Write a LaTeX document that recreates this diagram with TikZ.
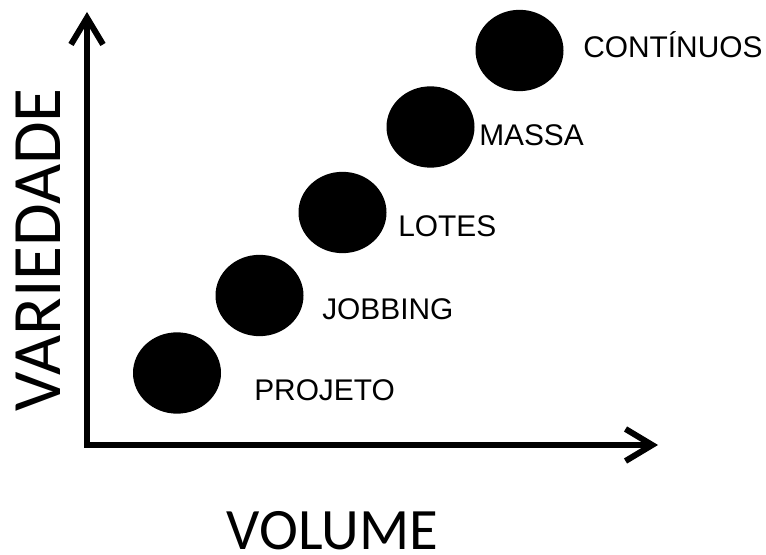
\documentclass[tikz,border=0pt]{standalone}
\usepackage{fontspec}
\setmainfont{Liberation Sans}
\newfontfamily\axisfont{Carlito}
\usetikzlibrary{arrows.meta,shapes.geometric}
\begin{document}
\begin{tikzpicture}[x=0.75pt,y=-0.75pt,
  dot/.style={ellipse,fill=black,minimum width=66pt,minimum height=61pt,inner sep=0pt},
  lbl/.style={anchor=base west,inner sep=0pt,font=\fontsize{22.4}{26}\selectfont},
  axis/.style={line width=4.5pt,line join=miter,
    {Straight Barb[length=20pt,width=24pt]}-{Straight Barb[length=20pt,width=24pt]}},
  axlabel/.style={inner sep=0pt,anchor=base,text depth=0pt}
]
\useasboundingbox (0,0) rectangle (766,555);

% axes
\coordinate (ytip) at (87,12);
\coordinate (origin) at (87,445);
\coordinate (xtip) at (658,445);
\draw[axis] (ytip) -- (origin) -- (xtip);

\node[axlabel,rotate=90,font=\axisfont\fontsize{52}{60}\selectfont] (vlab) at (60,250) {VARIEDADE};
\node[axlabel,font=\axisfont\fontsize{44}{52}\selectfont] (hlab) at (332.5,549) {VOLUME};

% process types
\node[dot] (c1) at (177,373) {};
\node[dot] (c2) at (259.5,295.5) {};
\node[dot] (c3) at (342.5,212.5) {};
\node[dot] (c4) at (430.5,127) {};
\node[dot] (c5) at (519.5,50.5) {};

\node[lbl] (t1) at (254,400) {PROJETO};
\node[lbl] (t2) at (322,320) {JOBBING};
\node[lbl] (t3) at (398,237) {LOTES};
\node[lbl] (t4) at (479,146) {MASSA};
\node[lbl] (t5) at (583,58) {CONTÍNUOS};
\end{tikzpicture}
\end{document}
